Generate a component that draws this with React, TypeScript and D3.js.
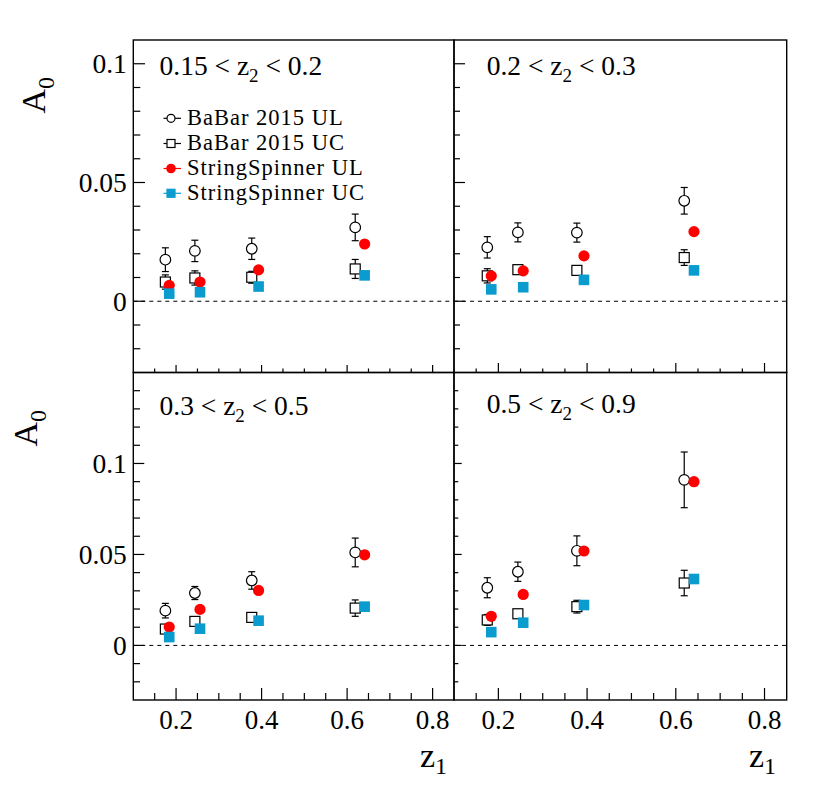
import React from "react";
import * as d3 from "d3";

// ---- data ----
const z1BaBar = [0.175, 0.244, 0.377, 0.619];
const z1Spinner = [0.184, 0.256, 0.393, 0.641];

const z2Low = ["0.15", "0.2", "0.3", "0.5"];
const z2High = ["0.2", "0.3", "0.5", "0.9"];

const babarUL = [
  [0.0175, 0.0212, 0.0221, 0.0311],
  [0.0227, 0.029, 0.0289, 0.0423],
  [0.0191, 0.0288, 0.0357, 0.0511],
  [0.0317, 0.0405, 0.052, 0.091],
];
const babarULErr = [
  [0.005, 0.0045, 0.0045, 0.0056],
  [0.0045, 0.004, 0.004, 0.0056],
  [0.004, 0.0036, 0.0048, 0.0079],
  [0.0055, 0.0053, 0.0082, 0.0153],
];
const babarUC = [
  [0.0081, 0.0098, 0.0101, 0.0136],
  [0.0107, 0.0133, 0.013, 0.0184],
  [0.009, 0.0132, 0.0154, 0.0205],
  [0.014, 0.0174, 0.0213, 0.0343],
];
const babarUCErr = [
  [0.003, 0.003, 0.0025, 0.004],
  [0.003, 0.002, 0.002, 0.0033],
  [0.002, 0.002, 0.002, 0.0045],
  [0.003, 0.002, 0.0035, 0.007],
];
const spinnerUL = [
  [0.0067, 0.0081, 0.0132, 0.0241],
  [0.0107, 0.0128, 0.0191, 0.0293],
  [0.0101, 0.0198, 0.0302, 0.0498],
  [0.016, 0.028, 0.0519, 0.09],
];
const spinnerUC = [
  [0.0032, 0.0038, 0.0062, 0.0109],
  [0.005, 0.0059, 0.009, 0.013],
  [0.0046, 0.0092, 0.0136, 0.0213],
  [0.0073, 0.0125, 0.0222, 0.0365],
];

const yTickLabels = [0, 0.05, 0.1];
const xTickLabels = [0.2, 0.4, 0.6, 0.8];
const legendLabels = ["BaBar 2015 UL", "BaBar 2015 UC", "StringSpinner UL", "StringSpinner UC"];

// ---- layout ----
const FONT = "'Liberation Serif', 'Times New Roman', serif";
const RED = "#ff0000";
const BLUE = "#0a9bcf";

const panels = [
  { x0: 133.3, x1: 454, y0: 40, y1: 372.5, yDom: [-0.03, 0.11], yMaj: 11.7, yMin: 7, xMaj: 7.5, xMin: 4, bottom: false, left: true, lx: 159.5, ly: 75, ax: 45, ay: 77 },
  { x0: 454, x1: 786.7, y0: 40, y1: 372.5, yDom: [-0.03, 0.11], yMaj: 11, yMin: 6, xMaj: 9.5, xMin: 4, bottom: false, left: false, lx: 486.7, ly: 75 },
  { x0: 133.3, x1: 454, y0: 372.5, y1: 700, yDom: [-0.03, 0.15], yMaj: 11, yMin: 6.7, xMaj: 12, xMin: 7, bottom: true, left: true, lx: 159.5, ly: 415, ax: 37, ay: 410, zx: 447 },
  { x0: 454, x1: 786.7, y0: 372.5, y1: 700, yDom: [-0.03, 0.15], yMaj: 7.7, yMin: 4.3, xMaj: 12, xMin: 7, bottom: true, left: false, lx: 486.7, ly: 413, zx: 776 },
];

function ErrBar({ x, yl, yh }: { x: number; yl: number; yh: number }) {
  const c = 3.5;
  return (
    <g stroke="#000" strokeWidth={1.2}>
      <line x1={x} x2={x} y1={yl} y2={yh} />
      <line x1={x - c} x2={x + c} y1={yl} y2={yl} />
      <line x1={x - c} x2={x + c} y1={yh} y2={yh} />
    </g>
  );
}

function Panel({ p, i }: { p: any; i: number }) {
  const xs = d3.scaleLinear().domain([0.1, 0.85]).range([p.x0, p.x1]);
  const ys = d3.scaleLinear().domain(p.yDom).range([p.y1, p.y0]);
  const yLo = Math.round(p.yDom[0] * 100);
  const yHi = Math.round(p.yDom[1] * 100);
  const yTicks = d3.range(yLo + 1, yHi).map((k) => ({ v: k / 100, major: k % 5 === 0 }));
  const xTicks = d3.range(3, 17).map((k) => ({ v: k / 20, major: k % 4 === 0 }));
  return (
    <g>
      {yTicks.map((t, k) => (
        <line key={"y" + k} x1={p.x0} x2={p.x0 + (t.major ? p.yMaj : p.yMin)} y1={ys(t.v)} y2={ys(t.v)} stroke="#000" strokeWidth={1.2} />
      ))}
      {xTicks.map((t, k) => (
        <line key={"x" + k} x1={xs(t.v)} x2={xs(t.v)} y1={p.y1} y2={p.y1 - (t.major ? p.xMaj : p.xMin)} stroke="#000" strokeWidth={1.2} />
      ))}
      <line x1={p.x0} x2={p.x1} y1={ys(0)} y2={ys(0)} stroke="#000" strokeWidth={1} strokeDasharray="4,4" />
      {p.left &&
        yTickLabels.map((v) => (
          <text key={"yl" + v} x={p.x0 - 6.5} y={ys(v) + 9.5} textAnchor="end" fontSize={27.5} fontFamily={FONT}>
            {d3.format("")(v)}
          </text>
        ))}
      {p.bottom &&
        xTickLabels.map((v) => (
          <text key={"xl" + v} x={xs(v)} y={729} textAnchor="middle" fontSize={27} fontFamily={FONT}>
            {v.toFixed(1)}
          </text>
        ))}
      <text x={p.lx} y={p.ly} fontSize={27.5} fontFamily={FONT}>
        {z2Low[i] + " < z"}
        <tspan fontSize={19} dy={7}>2</tspan>
        <tspan dy={-7}>{" < " + z2High[i]}</tspan>
      </text>
      {p.left && (
        <text transform={`translate(${p.ax},${p.ay}) rotate(-90)`} textAnchor="end" fontSize={34} fontFamily={FONT}>
          A<tspan fontSize={24} dy={9}>0</tspan>
        </text>
      )}
      {p.bottom && (
        <text x={p.zx} y={767} textAnchor="end" fontSize={34} fontFamily={FONT}>
          z<tspan fontSize={24} dy={7}>1</tspan>
        </text>
      )}
      {babarUL[i].map((v, k) => (
        <g key={"bul" + k}>
          <ErrBar x={xs(z1BaBar[k])} yl={ys(v - babarULErr[i][k])} yh={ys(v + babarULErr[i][k])} />
          <circle cx={xs(z1BaBar[k])} cy={ys(v)} r={5.3} fill="#fff" stroke="#000" strokeWidth={1.2} />
        </g>
      ))}
      {babarUC[i].map((v, k) => (
        <g key={"buc" + k}>
          <ErrBar x={xs(z1BaBar[k])} yl={ys(v - babarUCErr[i][k])} yh={ys(v + babarUCErr[i][k])} />
          <rect x={xs(z1BaBar[k]) - 5} y={ys(v) - 5} width={10} height={10} fill="#fff" stroke="#000" strokeWidth={1.2} />
        </g>
      ))}
      {spinnerUL[i].map((v, k) => (
        <circle key={"sul" + k} cx={xs(z1Spinner[k])} cy={ys(v)} r={5.6} fill={RED} />
      ))}
      {spinnerUC[i].map((v, k) => (
        <rect key={"suc" + k} x={xs(z1Spinner[k]) - 5.3} y={ys(v) - 5.3} width={10.6} height={10.6} fill={BLUE} />
      ))}
      <rect x={p.x0} y={p.y0} width={p.x1 - p.x0} height={p.y1 - p.y0} fill="none" stroke="#000" strokeWidth={1.4} />
    </g>
  );
}

function Legend() {
  const rows = [118.3, 143.5, 168.5, 193.3];
  const mx = 171;
  return (
    <g>
      {legendLabels.map((lab, k) => {
        const y = rows[k];
        const col = k === 2 ? RED : k === 3 ? BLUE : "#000";
        return (
          <g key={lab}>
            <line x1={163.5} x2={181} y1={y} y2={y} stroke={col} strokeWidth={1.2} />
            {k === 0 && <circle cx={mx} cy={y} r={4} fill="#fff" stroke="#000" strokeWidth={1.2} />}
            {k === 1 && <rect x={mx - 4} y={y - 4} width={8} height={8} fill="#fff" stroke="#000" strokeWidth={1.2} />}
            {k === 2 && <circle cx={mx} cy={y} r={4.8} fill={RED} />}
            {k === 3 && <rect x={mx - 4.6} y={y - 4.6} width={9.2} height={9.2} fill={BLUE} />}
            <text x={187} y={y + 6.5} fontSize={22.5} letterSpacing={1} fontFamily={FONT}>
              {lab}
            </text>
          </g>
        );
      })}
    </g>
  );
}

export default function App() {
  return (
    <svg width={830} height={794} style={{ position: "absolute", left: 0, top: 0, background: "#fff" }}>
      <rect width={830} height={794} fill="#fff" />
      {panels.map((p, i) => (
        <Panel key={i} p={p} i={i} />
      ))}
      <Legend />
    </svg>
  );
}
